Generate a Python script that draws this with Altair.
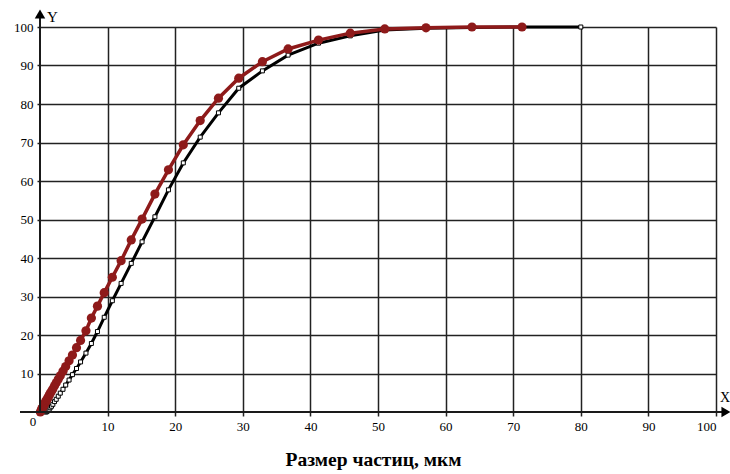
import altair as alt
import pandas as pd

# Particle size grid (µm) and cumulative fraction (%) for the two samples
size_a = [0.05, 0.2, 0.3, 0.4, 0.5, 0.6, 0.68, 0.76, 0.85, 0.95, 1.07, 1.2, 1.35, 1.5,
          1.7, 1.9, 2.15, 2.4, 2.7, 3.0, 3.4, 3.8, 4.3, 4.8, 5.4, 6.0, 6.8, 7.6, 8.5,
          9.5, 10.7, 12.0, 13.5, 15.1, 17.0, 19.0, 21.2, 23.7, 26.4, 29.4, 32.9, 36.7,
          41.2, 45.9, 51.0, 57.1, 63.9, 71.3]
cum_a = [0.0, 0.6, 0.9, 1.2, 1.5, 1.8, 2.1, 2.4, 2.7, 3.0, 3.4, 3.8, 4.3, 4.8,
         5.4, 6.0, 6.8, 7.6, 8.5, 9.4, 10.6, 11.8, 13.3, 14.8, 16.7, 18.6, 21.1, 24.4, 27.5,
         31.0, 35.0, 39.3, 44.7, 50.1, 56.6, 62.9, 69.4, 75.7, 81.5, 86.7, 91.0, 94.3,
         96.6, 98.4, 99.5, 99.8, 100.0, 100.0]

size_b = [0.85, 0.95, 1.07, 1.2, 1.35, 1.5, 1.7, 1.9, 2.15, 2.4, 2.7, 3.0, 3.4, 3.8,
          4.3, 4.8, 5.4, 6.0, 6.8, 7.6, 8.5, 9.5, 10.7, 12.0, 13.5, 15.1, 17.0, 19.0,
          21.2, 23.7, 26.4, 29.4, 32.9, 36.7, 41.2, 45.9, 51.0, 57.1, 63.9, 71.3, 80.0]
cum_b = [0.0, 0.05, 0.2, 0.4, 0.7, 1.1, 1.5, 2.0, 2.7, 3.3, 4.1, 4.9, 5.9, 7.0,
         8.3, 9.7, 11.3, 13.0, 15.3, 17.8, 20.9, 24.6, 28.9, 33.4, 38.6, 44.2, 50.7, 57.7,
         64.7, 71.4, 77.7, 84.1, 88.6, 92.7, 95.8, 97.7, 99.2, 99.7, 99.9, 100.0, 100.0]

tick_values = [10, 20, 30, 40, 50, 60, 70, 80, 90, 100]

df_a = pd.DataFrame({"size": size_a, "cum": cum_a})
df_b = pd.DataFrame({"size": size_b, "cum": cum_b})

SERIF = "Liberation Serif"
RED = "#8e1a1a"
W, H = 676, 385

x_scale = alt.Scale(domain=[0, 100], nice=False, zero=False)
y_scale = alt.Scale(domain=[0, 100], nice=False, zero=False)

x_axis = alt.Axis(
    values=tick_values, grid=True, gridColor="#222222", gridWidth=1.5,
    domain=False, ticks=True, tickSize=4, tickColor="#222222", tickWidth=1.5,
    labelFont=SERIF, labelFontSize=13, labelColor="black", labelPadding=4,
    title="Размер частиц, мкм", titleFont=SERIF, titleFontSize=19.5,
    titleFontWeight="bold", titleColor="black", titlePadding=17, titleX=333,
)
y_axis = alt.Axis(
    values=tick_values, grid=True, gridColor="#222222", gridWidth=1.5,
    domain=False, ticks=True, tickSize=3, tickColor="#222222", tickWidth=1.5,
    labelFont=SERIF, labelFontSize=13, labelColor="black", labelPadding=4,
    title=None,
)

x_enc = alt.X("size:Q", scale=x_scale, axis=x_axis)
y_enc = alt.Y("cum:Q", scale=y_scale, axis=y_axis)

line_b = alt.Chart(df_b).mark_line(color="black", strokeWidth=3).encode(x=x_enc, y=y_enc)
pts_b = alt.Chart(df_b).mark_point(
    shape="square", size=16, filled=True, fill="white", stroke="black", strokeWidth=1, opacity=1
).encode(x="size:Q", y="cum:Q")

line_a = alt.Chart(df_a).mark_line(color=RED, strokeWidth=3.5).encode(x="size:Q", y="cum:Q")
pts_a = alt.Chart(df_a).mark_point(
    shape="circle", size=85, filled=True, color=RED, opacity=1
).encode(x="size:Q", y="cum:Q")

# Axis lines with arrow heads
x_line = alt.Chart().mark_rule(color="#1a1a1a", strokeWidth=2).encode(
    x=alt.value(-20), x2=alt.value(W + 8), y=alt.value(H))
y_line = alt.Chart().mark_rule(color="#1a1a1a", strokeWidth=2).encode(
    x=alt.value(0), y=alt.value(-12), y2=alt.value(H))
arrow_y = alt.Chart().mark_point(shape="triangle-up", size=110, filled=True, color="black", opacity=1).encode(
    x=alt.value(0), y=alt.value(-13))
arrow_x = alt.Chart().mark_point(shape="triangle-right", size=110, filled=True, color="black", opacity=1).encode(
    x=alt.value(W + 10), y=alt.value(H))

txt = dict(font=SERIF, fontSize=15, color="black")
lbl_y = alt.Chart().mark_text(align="left", baseline="middle", **txt).encode(
    x=alt.value(7), y=alt.value(-10), text=alt.value("Y"))
lbl_x = alt.Chart().mark_text(align="left", baseline="middle", font=SERIF, fontSize=14, color="black").encode(
    x=alt.value(W + 4), y=alt.value(H - 14), text=alt.value("X"))
lbl_0 = alt.Chart().mark_text(align="center", baseline="middle", font=SERIF, fontSize=13, color="black").encode(
    x=alt.value(-7), y=alt.value(H + 10), text=alt.value("0"))

chart = alt.layer(
    line_b, pts_b, line_a, pts_a, x_line, y_line, arrow_y, arrow_x, lbl_y, lbl_x, lbl_0
).properties(
    width=W, height=H,
    padding={"left": 40, "top": 27, "right": 14, "bottom": 62},
    autosize=alt.AutoSizeParams(type="none"),
    background="white",
).configure_view(stroke=None)

chart.save("out.html", embed_options={"renderer": "svg", "actions": False})
